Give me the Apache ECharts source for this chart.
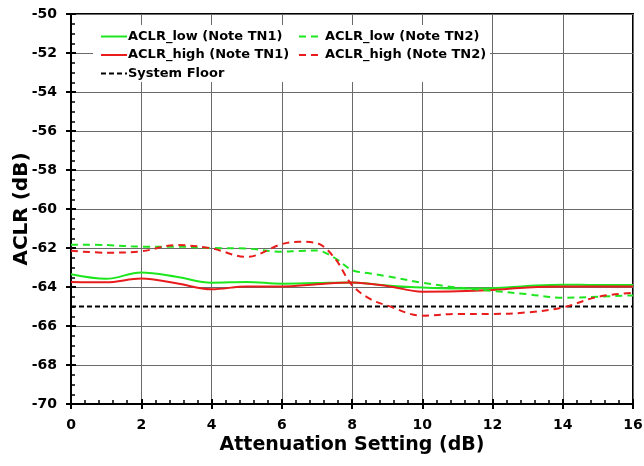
<!DOCTYPE html>
<html><head><meta charset="utf-8">
<script src="https://cdn.jsdelivr.net/npm/echarts@6/dist/echarts.min.js"></script>
<style>html,body{margin:0;padding:0;background:#fff}#c{width:644px;height:466px}</style>
</head><body><div id="c"></div>
<script>
var xTN1 = [0,1,2,3,4,5,6,7,8,9,10,11,12,13,14,15,16];
var lowTN1 = [-63.35,-63.58,-63.25,-63.47,-63.78,-63.74,-63.83,-63.8,-63.77,-63.92,-64.03,-64.08,-64.06,-63.95,-63.88,-63.9,-63.9];
var highTN1 = [-63.74,-63.76,-63.57,-63.81,-64.12,-63.97,-63.97,-63.86,-63.77,-63.95,-64.24,-64.22,-64.15,-64.03,-63.98,-63.98,-63.98];
var xTN2 = [0,1,2,3,4,5,6,6.5,7,7.5,8,8.5,9,10,11,12,13,14,15,16];
var lowTN2 = [-61.83,-61.85,-61.93,-61.93,-62.0,-62.03,-62.19,-62.15,-62.13,-62.5,-63.13,-63.3,-63.45,-63.78,-64.03,-64.2,-64.37,-64.55,-64.5,-64.43];
var highTN2 = [-62.14,-62.24,-62.17,-61.85,-62.02,-62.46,-61.8,-61.68,-61.75,-62.5,-63.9,-64.6,-64.95,-65.47,-65.38,-65.38,-65.3,-65.05,-64.5,-64.3];
var xFloor = [0,16];
var floorVals = [-65,-65];
var xTicks = [0,2,4,6,8,10,12,14,16];
var yTicks = [-70,-68,-66,-64,-62,-60,-58,-56,-54,-52,-50];

function pairs(xs, ys){ return xs.map(function(x,i){return [x, ys[i]];}); }
var FONT = 'DejaVu Sans';
var chart = echarts.init(document.getElementById('c'), null, {renderer:'canvas'});
var gridStyle = {show:true, lineStyle:{color:'#6a6a6a', width:1}};
var legText = {fontFamily:FONT, fontWeight:'bold', fontSize:13, color:'#000'};
chart.setOption({
  animation:false,
  backgroundColor:'#fff',
  grid:{left:71, right:11, top:14, bottom:62, show:true, borderColor:'#000', borderWidth:2,
        backgroundColor:'transparent', containLabel:false, outerBoundsMode:'none'},
  graphic:[{type:'rect', left:93, top:25, z:3, shape:{width:397, height:57}, style:{fill:'#fff'}, silent:true}],
  xAxis:[{
    type:'value', min:xTicks[0], max:xTicks[xTicks.length-1], interval:2,
    name:'Attenuation Setting (dB)', nameLocation:'middle', nameGap:32, nameMoveOverlap:false,
    nameTextStyle:{fontFamily:FONT, fontWeight:'bold', fontSize:19, color:'#000'},
    axisLine:{show:true, lineStyle:{color:'#000', width:2}},
    axisTick:{show:true, inside:true, length:5, lineStyle:{color:'#000', width:2}},
    minorTick:{show:true, splitNumber:5, length:4, lineStyle:{color:'#000', width:1.5}},
    axisLabel:{fontFamily:FONT, fontWeight:'bold', fontSize:14, color:'#000', margin:14},
    splitLine:gridStyle
  },{
    type:'value', min:0, max:16, interval:2, position:'bottom',
    axisLine:{show:false}, axisLabel:{show:false}, splitLine:{show:false},
    axisTick:{show:true, inside:false, length:5, lineStyle:{color:'#000', width:2}}
  }],
  yAxis:[{
    type:'value', min:yTicks[0], max:yTicks[yTicks.length-1], interval:2,
    name:'ACLR (dB)', nameLocation:'middle', nameGap:39, nameRotate:90, nameMoveOverlap:false,
    nameTextStyle:{fontFamily:FONT, fontWeight:'bold', fontSize:20, color:'#000'},
    axisLine:{show:true, lineStyle:{color:'#000', width:2}},
    axisTick:{show:true, inside:true, length:5, lineStyle:{color:'#000', width:2}},
    minorTick:{show:true, splitNumber:4, length:4, lineStyle:{color:'#000', width:1.5}},
    axisLabel:{fontFamily:FONT, fontWeight:'bold', fontSize:14, color:'#000', margin:14},
    splitLine:gridStyle
  },{
    type:'value', min:-70, max:-50, interval:2, position:'left',
    axisLine:{show:false}, axisLabel:{show:false}, splitLine:{show:false},
    axisTick:{show:true, inside:false, length:5, lineStyle:{color:'#000', width:2}}
  }],
  legend:[{
    orient:'vertical', left:100, top:30, padding:0, itemWidth:26, itemHeight:12, itemGap:5.5, z:4,
    data:['ACLR_low (Note TN1)','ACLR_high (Note TN1)','System Floor'],
    itemStyle:{opacity:0},
    textStyle:Object.assign({padding:[0,0,0,-4]}, legText)
  },{
    orient:'vertical', left:298, top:30, padding:0, itemWidth:22, itemHeight:12, itemGap:5.5, z:4,
    data:['ACLR_low (Note TN2)','ACLR_high (Note TN2)'],
    itemStyle:{opacity:0},
    textStyle:Object.assign({padding:[0,0,0,-1]}, legText)
  }],
  series:[
    {name:'ACLR_low (Note TN1)', type:'line', data:pairs(xTN1, lowTN1), smooth:0.35, showSymbol:false, symbol:'none',
      lineStyle:{color:'#1ee61e', width:2}, itemStyle:{color:'#1ee61e'}},
    {name:'ACLR_high (Note TN1)', type:'line', data:pairs(xTN1, highTN1), smooth:0.35, showSymbol:false, symbol:'none',
      lineStyle:{color:'#e81c1c', width:2}, itemStyle:{color:'#e81c1c'}},
    {name:'System Floor', type:'line', data:pairs(xFloor, floorVals), showSymbol:false, symbol:'none',
      lineStyle:{color:'#000', width:2, type:[5,3]}, itemStyle:{color:'#000'}},
    {name:'ACLR_low (Note TN2)', type:'line', data:pairs(xTN2, lowTN2), smooth:0.35, showSymbol:false, symbol:'none',
      lineStyle:{color:'#1ee61e', width:2, type:[7,5]}, itemStyle:{color:'#1ee61e'}},
    {name:'ACLR_high (Note TN2)', type:'line', data:pairs(xTN2, highTN2), smooth:0.35, showSymbol:false, symbol:'none',
      lineStyle:{color:'#e81c1c', width:2, type:[7,5]}, itemStyle:{color:'#e81c1c'}}
  ]
});
</script></body></html>
